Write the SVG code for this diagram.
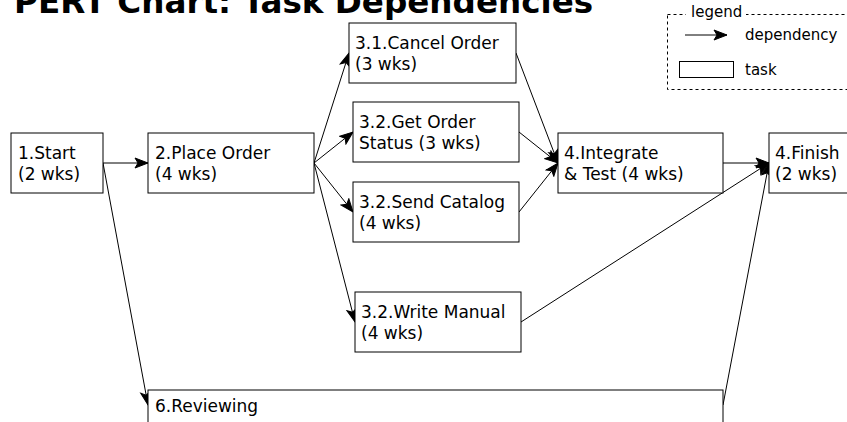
<svg xmlns="http://www.w3.org/2000/svg" width="847" height="422" viewBox="0 0 847 422">
<style>
.box{fill:#fff;stroke:#000;stroke-width:1}
.t{font-family:"DejaVu Sans",Verdana,sans-serif;font-size:17px;fill:#000}
.lt{font-family:"DejaVu Sans",Verdana,sans-serif;font-size:15px;fill:#000}
.title{font-family:"DejaVu Sans",Verdana,sans-serif;font-size:32.6px;font-weight:bold;fill:#000}
.c{fill:none;stroke:#000;stroke-width:1;marker-end:url(#arr)}
</style>
<defs>
<marker id="arr" markerUnits="userSpaceOnUse" viewBox="-14 -7 15 14" refX="0" refY="0" markerWidth="15" markerHeight="14" orient="auto">
<path d="M-13,-5 L0,0 L-13,5 L-10,0 Z" fill="#000" stroke="#000" stroke-width="1"/>
</marker>
</defs>
<rect width="847" height="422" fill="#fff"/>
<text class="title" x="14" y="13">PERT Chart: Task Dependencies</text>

<g id="legend">
<rect x="667.5" y="14.5" width="200" height="75" fill="none" stroke="#000" stroke-dasharray="3,3"/>
<rect x="686" y="4" width="60" height="16" fill="#fff"/>
<text class="lt" x="691" y="17">legend</text>
<line x1="685" y1="35" x2="727" y2="35" class="c"/>
<text class="lt" x="745" y="40">dependency</text>
<rect x="679.5" y="61.5" width="54" height="16" class="box"/>
<text class="lt" x="745" y="75">task</text>
</g>

<g id="connectors">
<line class="c" x1="103" y1="163" x2="148" y2="163"/>
<line class="c" x1="103" y1="163" x2="148" y2="405"/>
<line class="c" x1="314" y1="163" x2="349" y2="53"/>
<line class="c" x1="314" y1="163" x2="353" y2="132"/>
<line class="c" x1="314" y1="163" x2="353" y2="212"/>
<line class="c" x1="314" y1="163" x2="355" y2="322"/>
<line class="c" x1="516" y1="53" x2="558" y2="163"/>
<line class="c" x1="519" y1="132" x2="558" y2="163"/>
<line class="c" x1="519" y1="212" x2="558" y2="163"/>
<line class="c" x1="723" y1="163" x2="769" y2="163"/>
<line class="c" x1="521" y1="322" x2="769" y2="163"/>
<line class="c" x1="723" y1="405" x2="769" y2="163"/>
</g>

<g id="n1">
<rect class="box" x="11" y="133" width="92" height="60"/>
<text class="t" x="18" y="159">1.Start</text>
<text class="t" x="18" y="180">(2 wks)</text>
</g>
<g id="n2">
<rect class="box" x="148" y="133" width="166" height="60"/>
<text class="t" x="155" y="159">2.Place Order</text>
<text class="t" x="155" y="180">(4 wks)</text>
</g>
<g id="n31">
<rect class="box" x="349" y="23" width="167" height="60"/>
<text class="t" x="355" y="49">3.1.Cancel Order</text>
<text class="t" x="355" y="70">(3 wks)</text>
</g>
<g id="n32a">
<rect class="box" x="353" y="102" width="166" height="60"/>
<text class="t" x="359" y="128">3.2.Get Order</text>
<text class="t" x="359" y="149">Status (3 wks)</text>
</g>
<g id="n32b">
<rect class="box" x="353" y="182" width="166" height="60"/>
<text class="t" x="359" y="208">3.2.Send Catalog</text>
<text class="t" x="359" y="229">(4 wks)</text>
</g>
<g id="n32c">
<rect class="box" x="355" y="292" width="166" height="60"/>
<text class="t" x="361" y="318">3.2.Write Manual</text>
<text class="t" x="361" y="339">(4 wks)</text>
</g>
<g id="n4">
<rect class="box" x="558" y="133" width="165" height="60"/>
<text class="t" x="564" y="159">4.Integrate</text>
<text class="t" x="564" y="180">&amp; Test (4 wks)</text>
</g>
<g id="n5">
<rect class="box" x="769" y="133" width="166" height="60"/>
<text class="t" x="775" y="159">4.Finish</text>
<text class="t" x="775" y="180">(2 wks)</text>
</g>
<g id="n6">
<rect class="box" x="148" y="390" width="575" height="60"/>
<text class="t" x="155" y="412">6.Reviewing</text>
</g>
</svg>
